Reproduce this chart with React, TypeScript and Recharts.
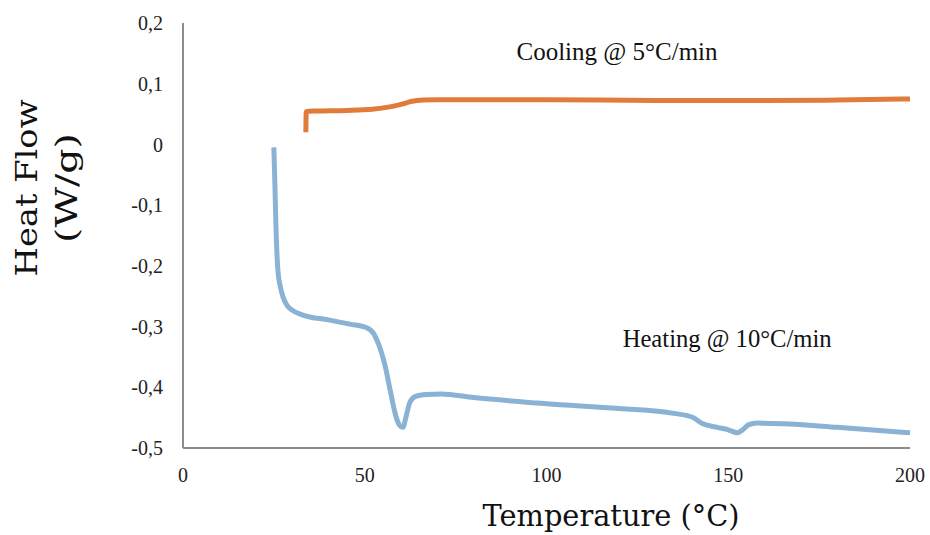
import React from 'react';
import {
  LineChart,
  Line,
  XAxis,
  YAxis,
  ReferenceDot,
  Label,
} from 'recharts';

// DSC heating run, 10 °C/min
const heatingTemp = [
  25, 25.3, 25.6, 26.1, 26.8, 27.5, 28.5, 30, 33, 40, 46, 50.5, 52.5, 54, 55.5,
  57, 58.5, 59.5, 60.5, 61.3, 62.4, 64, 67, 71, 80, 100, 120, 135, 140, 143,
  147, 150, 152.5, 154, 155.5, 158, 165, 180, 200,
];
const heatingFlow = [
  -0.005, -0.07, -0.14, -0.207, -0.235, -0.251, -0.264, -0.273, -0.281, -0.289,
  -0.296, -0.302, -0.312, -0.332, -0.362, -0.405, -0.446, -0.462, -0.466,
  -0.45, -0.425, -0.415, -0.412, -0.411, -0.417, -0.427, -0.435, -0.443,
  -0.449, -0.46, -0.466, -0.47, -0.475, -0.47, -0.462, -0.459, -0.46, -0.466,
  -0.475,
];

// DSC cooling run, 5 °C/min
const coolingTemp = [33.8, 33.9, 36, 45, 52, 56, 60, 63, 66, 70, 100, 130, 160, 180, 200];
const coolingFlow = [
  0.02, 0.054, 0.055, 0.056, 0.058, 0.061, 0.066, 0.071, 0.073, 0.0735,
  0.0735, 0.0725, 0.0725, 0.073, 0.075,
];

const xTicks = [0, 50, 100, 150, 200];
const yTicks = [-0.5, -0.4, -0.3, -0.2, -0.1, 0, 0.1, 0.2];

const heating = heatingTemp.map((t, i) => ({ t, v: heatingFlow[i] }));
const cooling = coolingTemp.map((t, i) => ({ t, v: coolingFlow[i] }));

const tickStyle = { fontSize: 20, fill: '#222', fontFamily: 'Liberation Serif, serif' };
const titleFont = 'DejaVu Serif, serif';
const noteFont = 'Liberation Serif, serif';

const fmt = (v: number) => String(Math.round(v * 10) / 10).replace('.', ',');

const YTitle = () => (
  <g fill="#111" fontFamily={titleFont} fontSize={29}>
    <text
      x={37}
      y={188}
      textAnchor="middle"
      transform="rotate(-90, 37, 188)"
      textLength={177}
      lengthAdjust="spacingAndGlyphs"
    >
      Heat Flow
    </text>
    <text
      x={77}
      y={188}
      textAnchor="middle"
      transform="rotate(-90, 77, 188)"
      textLength={110}
      lengthAdjust="spacingAndGlyphs"
    >
      (W/g)
    </text>
  </g>
);

const XTitle = () => (
  <text
    x={611}
    y={526}
    textAnchor="middle"
    fill="#111"
    fontFamily={titleFont}
    fontSize={29}
    textLength={257}
    lengthAdjust="spacingAndGlyphs"
  >
    Temperature (°C)
  </text>
);

const note = (text: string, width: number) => (props: any) => {
  const vb = props.viewBox || {};
  return (
    <text
      x={vb.x}
      y={vb.y + 8}
      textAnchor="middle"
      fill="#111"
      fontFamily={noteFont}
      fontSize={25}
      textLength={width}
      lengthAdjust="spacingAndGlyphs"
    >
      {text}
    </text>
  );
};

export default function App() {
  return (
    <div style={{ position: 'absolute', left: 0, top: 0, background: '#fff' }}>
      <LineChart width={930} height={535} margin={{ top: 23, right: 20, left: 123, bottom: 47 }}>
        <XAxis
          dataKey="t"
          type="number"
          domain={[0, 200]}
          ticks={xTicks}
          allowDuplicatedCategory={false}
          tickLine={false}
          tickSize={0}
          tickMargin={20}
          height={40}
          tick={tickStyle}
          axisLine={{ stroke: '#8c8c8c', strokeWidth: 2 }}
        >
          <Label content={<XTitle />} />
        </XAxis>
        <YAxis
          dataKey="v"
          type="number"
          domain={[-0.5, 0.2]}
          ticks={yTicks}
          tickFormatter={fmt}
          tickLine={false}
          tickSize={0}
          tickMargin={20}
          width={60}
          tick={tickStyle}
          axisLine={{ stroke: '#8c8c8c', strokeWidth: 2 }}
        >
          <Label content={<YTitle />} />
        </YAxis>
        <Line
          data={heating}
          dataKey="v"
          type="monotone"
          stroke="#8ab2d4"
          strokeWidth={5}
          dot={false}
          isAnimationActive={false}
        />
        <Line
          data={cooling}
          dataKey="v"
          type="monotone"
          stroke="#e07b39"
          strokeWidth={5}
          dot={false}
          isAnimationActive={false}
        />
        <ReferenceDot
          x={119.4}
          y={0.152}
          r={0}
          fill="none"
          stroke="none"
          label={note('Cooling @ 5°C/min', 201)}
        />
        <ReferenceDot
          x={149.7}
          y={-0.32}
          r={0}
          fill="none"
          stroke="none"
          label={note('Heating @ 10°C/min', 209)}
        />
      </LineChart>
    </div>
  );
}
